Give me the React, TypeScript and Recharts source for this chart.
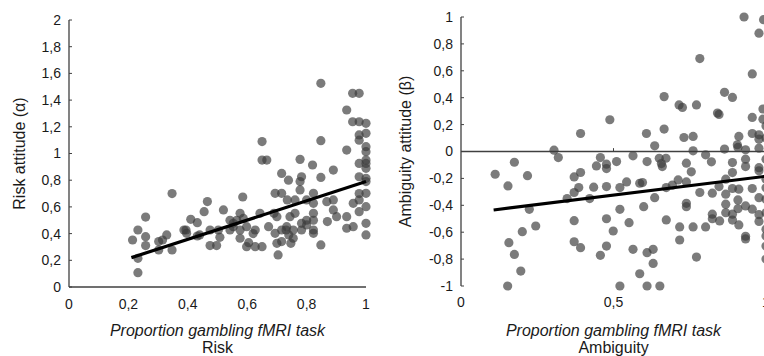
import React from 'react';
import { ScatterChart, Scatter, XAxis, YAxis, ReferenceLine, Label } from 'recharts';

// Risk panel: [proportion gambling, risk attitude α]
const riskPoints: number[][] = [
  [0.214, 0.352], [0.232, 0.427], [0.232, 0.215], [0.232, 0.107], [0.258, 0.524], [0.258, 0.377], [0.258, 0.31],
  [0.302, 0.34], [0.302, 0.277], [0.315, 0.352], [0.329, 0.39], [0.347, 0.277], [0.347, 0.7], [0.387, 0.427],
  [0.394, 0.427], [0.41, 0.507], [0.432, 0.482], [0.432, 0.382], [0.455, 0.564], [0.466, 0.64], [0.475, 0.427],
  [0.475, 0.31], [0.497, 0.31], [0.508, 0.372], [0.52, 0.577], [0.542, 0.5], [0.542, 0.427], [0.553, 0.452],
  [0.565, 0.5], [0.576, 0.427], [0.576, 0.365], [0.585, 0.674], [0.587, 0.514], [0.598, 0.302], [0.605, 0.332],
  [0.627, 0.427], [0.627, 0.302], [0.643, 0.552], [0.65, 1.089], [0.65, 0.951], [0.666, 0.951], [0.65, 0.302],
  [0.672, 0.452], [0.69, 0.552], [0.694, 0.702], [0.694, 0.402], [0.7, 0.327], [0.704, 0.24], [0.716, 0.851],
  [0.716, 0.702], [0.716, 0.427], [0.716, 0.34], [0.731, 0.427], [0.735, 0.652], [0.739, 0.8], [0.74, 0.39],
  [0.744, 0.527], [0.747, 0.327], [0.755, 0.427], [0.761, 0.652], [0.761, 0.552], [0.778, 0.79], [0.778, 0.956],
  [0.783, 0.826], [0.783, 0.427], [0.783, 0.477], [0.778, 0.727], [0.8, 0.652], [0.8, 0.465], [0.82, 0.914],
  [0.823, 0.702], [0.823, 0.627], [0.823, 0.552], [0.823, 0.5], [0.823, 0.427], [0.848, 1.096], [0.848, 1.526],
  [0.848, 0.821], [0.848, 0.315], [0.868, 0.639], [0.87, 0.49], [0.89, 0.876], [0.89, 0.652], [0.89, 0.577],
  [0.901, 0.527], [0.935, 1.326], [0.935, 1.026], [0.935, 0.527], [0.935, 0.44], [0.955, 1.451], [0.955, 1.238],
  [0.957, 0.627], [0.957, 0.452], [0.977, 1.451], [0.977, 1.238], [0.977, 1.139], [0.977, 1.1], [0.977, 0.926],
  [0.977, 0.826], [0.977, 0.7], [0.977, 0.652], [0.977, 0.564], [1.0, 1.226], [1.0, 1.151], [1.0, 1.051],
  [1.0, 1.014], [1.0, 0.951], [1.0, 0.926], [1.0, 0.889], [1.0, 0.814], [1.0, 0.79], [1.0, 0.702], [1.0, 0.602],
  [1.0, 0.477], [1.0, 0.39], [0.396, 0.402], [0.44, 0.39], [0.503, 0.427], [0.598, 0.452], [0.553, 0.477],
  [0.7, 0.527], [0.733, 0.452], [0.8, 0.5], [0.823, 0.402], [0.755, 0.365], [0.62, 0.4], [0.576, 0.552],
];

// Ambiguity panel: [proportion gambling, ambiguity attitude β]
const ambiguityPoints: number[][] = [
  [0.112, -0.169], [0.154, -0.256], [0.175, -0.08], [0.218, -0.18], [0.224, -0.43], [0.201, -0.596], [0.245, -0.554],
  [0.157, -0.678], [0.175, -0.765], [0.196, -0.889], [0.153, -1.0], [0.305, 0.01], [0.319, -0.045], [0.348, -0.35],
  [0.371, -0.189], [0.392, -0.156], [0.386, -0.268], [0.371, -0.305], [0.392, 0.134], [0.371, -0.514], [0.371, -0.671],
  [0.392, -0.715], [0.435, -0.265], [0.422, -0.35], [0.444, -0.107], [0.457, -0.045], [0.477, -0.094], [0.477, -0.127],
  [0.51, -0.075], [0.477, -0.261], [0.488, 0.236], [0.477, -0.5], [0.499, -0.591], [0.477, -0.703], [0.457, -0.772],
  [0.521, -1.0], [0.521, -0.268], [0.521, -0.43], [0.543, -0.226], [0.551, -0.529], [0.564, -0.032], [0.564, -0.727],
  [0.586, -0.236], [0.595, -0.231], [0.599, -0.41], [0.586, -0.909], [0.608, 0.134], [0.61, -0.075], [0.61, -0.752],
  [0.61, -1.0], [0.63, -0.727], [0.63, -0.832], [0.635, 0.042], [0.635, -0.343], [0.65, -0.05], [0.657, -0.09],
  [0.66, -0.112], [0.672, -0.05], [0.652, -1.0], [0.666, 0.408], [0.666, 0.167], [0.673, -0.268], [0.673, -0.509],
  [0.693, -0.25], [0.712, -0.211], [0.715, 0.346], [0.726, 0.328], [0.717, -0.561], [0.717, -0.658], [0.731, 0.104],
  [0.739, -0.087], [0.739, -0.226], [0.739, -0.385], [0.739, -0.41], [0.755, -0.151], [0.761, 0.112], [0.761, 0.005],
  [0.761, -0.561], [0.772, 0.346], [0.772, -0.785], [0.783, 0.691], [0.783, -0.305], [0.802, -0.025], [0.802, -0.561],
  [0.821, -0.077], [0.824, -0.31], [0.824, -0.466], [0.824, -0.5], [0.841, 0.286], [0.846, 0.276], [0.846, -0.261],
  [0.848, -0.516], [0.864, 0.44], [0.864, 0.018], [0.868, -0.206], [0.868, -0.317], [0.868, -0.392], [0.868, -0.455],
  [0.89, 0.402], [0.89, -0.082], [0.89, -0.157], [0.89, -0.275], [0.89, -0.466], [0.89, -0.51], [0.906, 0.05],
  [0.908, 0.03], [0.911, 0.112], [0.911, -0.28], [0.908, -0.36], [0.908, -0.425], [0.911, -0.546], [0.928, 1.0],
  [0.933, 0.013], [0.933, -0.057], [0.933, -0.112], [0.933, -0.405], [0.933, -0.63], [0.933, -0.65], [0.955, 0.577],
  [0.955, 0.253], [0.955, 0.134], [0.955, -0.275], [0.955, -0.429], [0.977, 0.88], [0.977, 0.124], [0.977, 0.092],
  [0.977, 0.025], [0.977, -0.12], [0.977, -0.144], [0.977, -0.343], [0.977, -0.47], [0.977, -0.52], [0.992, 0.98],
  [0.99, 0.316], [0.99, 0.24], [1.0, 0.19], [1.0, -0.057], [1.0, -0.206], [1.0, -0.355], [1.0, -0.455], [1.0, -0.578],
  [1.0, -0.628], [1.0, -0.703], [1.0, -0.8], [1.0, 0.1], [1.0, -0.27],
];

// Fitted regression lines (endpoints)
const riskTrend: number[][] = [[0.21, 0.22], [1.0, 0.79]];
const ambiguityTrend: number[][] = [[0.107, -0.435], [1.0, -0.184]];

const riskXTicks = [0, 0.2, 0.4, 0.6, 0.8, 1];
const riskYTicks = [0, 0.2, 0.4, 0.6, 0.8, 1, 1.2, 1.4, 1.6, 1.8, 2];
const ambXTicks = [0, 0.5, 1];
const ambYTicks = [-1, -0.8, -0.6, -0.4, -0.2, 0, 0.2, 0.4, 0.6, 0.8, 1];

const toObj = (arr: number[][]) => arr.map(([x, y]) => ({ x, y }));

const fmt = (v: number) => {
  const r = Math.round(v * 10) / 10;
  if (Number.isInteger(r)) return String(r);
  return r.toFixed(1).replace('.', ',');
};

const FONT = '"Liberation Sans", Arial, sans-serif';
const AXIS = '#404040';
const TEXT = '#1a1a1a';

const Dot = (p: any) => (
  <circle cx={p.cx} cy={p.cy} r={4.6} fill="#3c3c3c" fillOpacity={0.68} />
);
const NoDot = () => null;

const XTitle = (line2: string) => (props: any) => {
  const vb = props.viewBox;
  const cx = vb.x + vb.width / 2;
  return (
    <g>
      <text x={cx} y={336} textAnchor="middle" fontStyle="italic" fontSize={16} fill={TEXT} fontFamily={FONT}>
        Proportion gambling fMRI task
      </text>
      <text x={cx} y={353} textAnchor="middle" fontSize={16} fill={TEXT} fontFamily={FONT}>
        {line2}
      </text>
    </g>
  );
};

export default function App() {
  return (
    <div style={{ position: 'absolute', left: 0, top: 0, width: 764, height: 356, overflow: 'hidden', background: '#fff' }}>
      <div style={{ position: 'absolute', left: 0, top: 0 }}>
        <ScatterChart width={382} height={356} margin={{ top: 20, right: 16, bottom: 39, left: 0 }}>
          <XAxis
            type="number"
            dataKey="x"
            domain={[0, 1]}
            ticks={riskXTicks}
            tickFormatter={fmt}
            height={30}
            axisLine={{ stroke: AXIS, strokeWidth: 1.3 }}
            tickLine={false}
            tickSize={0}
            tickMargin={12}
            tick={{ fontSize: 14, fill: TEXT, fontFamily: FONT }}
            interval={0}
            label={{ content: XTitle('Risk') } as any}
          />
          <YAxis
            type="number"
            dataKey="y"
            domain={[0, 2]}
            ticks={riskYTicks}
            tickFormatter={fmt}
            width={69}
            axisLine={{ stroke: AXIS, strokeWidth: 1.3 }}
            tickLine={{ stroke: AXIS, strokeWidth: 1 }}
            tickSize={-3}
            tickMargin={11}
            tick={{ fontSize: 14, fill: TEXT, fontFamily: FONT }}
            interval={0}
          >
            <Label
              value="Risk attitude (α)"
              angle={-90}
              position="insideLeft"
              offset={0}
              style={{ fontSize: 16, fill: TEXT, fontFamily: FONT, textAnchor: 'middle' }}
              dx={19}
            />
          </YAxis>
          <Scatter data={toObj(riskPoints)} shape={Dot} isAnimationActive={false} />
          <Scatter
            data={toObj(riskTrend)}
            shape={NoDot}
            line={{ stroke: '#000', strokeWidth: 3.2 }}
            isAnimationActive={false}
          />
        </ScatterChart>
      </div>
      <div style={{ position: 'absolute', left: 382, top: 0 }}>
        <ScatterChart width={400} height={356} margin={{ top: 17, right: 16, bottom: 40, left: 0 }}>
          <XAxis
            type="number"
            dataKey="x"
            domain={[0, 1]}
            ticks={ambXTicks}
            tickFormatter={fmt}
            height={30}
            axisLine={false}
            tickLine={false}
            tickSize={0}
            tickMargin={11}
            tick={{ fontSize: 14, fill: TEXT, fontFamily: FONT }}
            interval={0}
            label={{ content: XTitle('Ambiguity') } as any}
          />
          <YAxis
            type="number"
            dataKey="y"
            domain={[-1, 1]}
            ticks={ambYTicks}
            tickFormatter={fmt}
            width={79}
            axisLine={{ stroke: AXIS, strokeWidth: 1.3 }}
            tickLine={{ stroke: AXIS, strokeWidth: 1 }}
            tickSize={-3}
            tickMargin={11}
            tick={{ fontSize: 14, fill: TEXT, fontFamily: FONT }}
            interval={0}
          >
            <Label
              value="Ambiguity attitude (β)"
              angle={-90}
              position="insideLeft"
              offset={0}
              style={{ fontSize: 16, fill: TEXT, fontFamily: FONT, textAnchor: 'middle' }}
              dx={23}
            />
          </YAxis>
          <ReferenceLine y={0} stroke={AXIS} strokeWidth={1.3} />
          <ReferenceLine segment={[{ x: 0.5, y: 0 }, { x: 0.5, y: 0.025 }]} stroke={AXIS} strokeWidth={1} />
          <Scatter data={toObj(ambiguityPoints)} shape={Dot} isAnimationActive={false} />
          <Scatter
            data={toObj(ambiguityTrend)}
            shape={NoDot}
            line={{ stroke: '#000', strokeWidth: 3.2 }}
            isAnimationActive={false}
          />
        </ScatterChart>
      </div>
    </div>
  );
}
